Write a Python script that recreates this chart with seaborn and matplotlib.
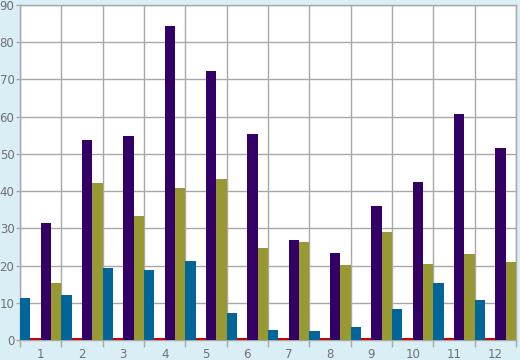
import pandas as pd
import numpy as np
import seaborn as sns
import matplotlib.pyplot as plt
from matplotlib.ticker import FixedLocator

# =========================
# Data
# =========================
categories = ['1', '2', '3', '4', '5', '6', '7', '8', '9', '10', '11', '12']
series_names = ['blue', 'red', 'purple', 'olive']

blue_vals = [11.4, 12.2, 19.4, 18.9, 21.3, 7.3, 2.8, 2.5, 3.6, 8.4, 15.4, 10.8]
red_vals = [0.5, 0.5, 0.5, 0.5, 0.5, 0.5, 0.5, 0.5, 0.5, 0.5, 0.5, 0.5]
purple_vals = [31.5, 53.8, 54.9, 84.4, 72.4, 55.4, 27.0, 23.5, 36.1, 42.5, 60.8, 51.5]
olive_vals = [15.4, 42.3, 33.4, 40.9, 43.3, 24.8, 26.4, 20.2, 29.1, 20.5, 23.2, 21.0]

y_ticks = [0, 10, 20, 30, 40, 50, 60, 70, 80, 90]

colors = ['#006699', '#CC0000', '#330066', '#999933']

df = pd.DataFrame({
    'category': categories * 4,
    'series': np.repeat(series_names, len(categories)),
    'value': blue_vals + red_vals + purple_vals + olive_vals,
})

# =========================
# Plot
# =========================
sns.set_theme(style="white")
bg = '#D9EEF5'
grid_c = '#A8A8A8'
text_c = '#707070'

fig = plt.figure(figsize=(5.2, 3.6), dpi=100, facecolor=bg)
ax = fig.add_axes([20 / 520, 20 / 360, 496 / 520, 335 / 360])
ax.set_facecolor('white')

sns.barplot(data=df, x='category', y='value', hue='series',
            hue_order=series_names, palette=colors, width=1.0,
            saturation=1, legend=False, ax=ax, linewidth=0, zorder=3)

ax.set_xlim(-0.5, len(categories) - 0.5)
ax.set_ylim(0, 90)
ax.set_yticks(y_ticks)
ax.set_xlabel('')
ax.set_ylabel('')

# vertical grid at category boundaries
ax.xaxis.set_minor_locator(FixedLocator(np.arange(-0.5, len(categories), 1.0)))
ax.grid(True, axis='y', which='major', color=grid_c, linewidth=1, zorder=0)
ax.grid(True, axis='x', which='minor', color=grid_c, linewidth=1, zorder=0)
ax.set_axisbelow(True)

ax.tick_params(axis='x', which='major', length=0, pad=6, labelsize=8.5, labelcolor=text_c)
ax.tick_params(axis='x', which='minor', length=5, width=1, color=grid_c, direction='out', bottom=True)
ax.tick_params(axis='y', length=3, width=1, color=grid_c, pad=1, labelsize=8.5, labelcolor=text_c, left=True)

for s in ax.spines.values():
    s.set_color(grid_c)
    s.set_linewidth(1)

fig.savefig('out.png', dpi=100, facecolor=bg)
